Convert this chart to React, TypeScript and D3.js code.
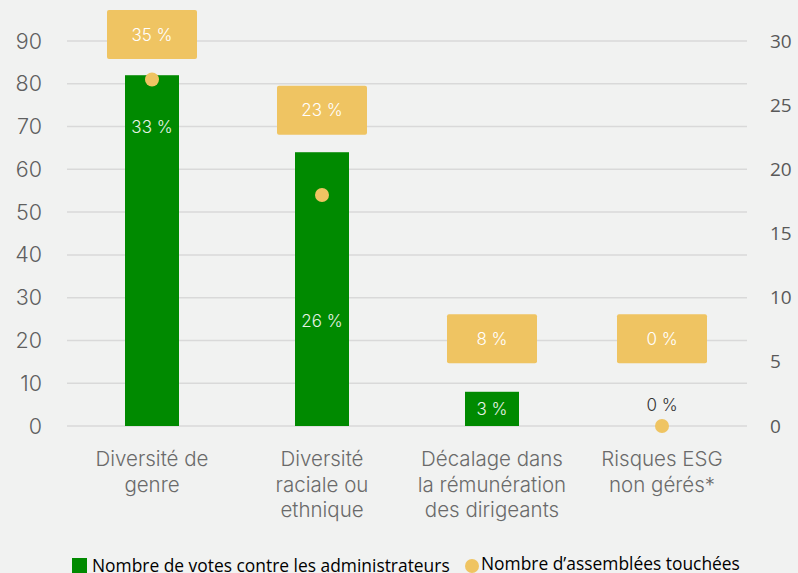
import React from "react";
import * as d3 from "d3";

const categories = [
  ["Diversité de", "genre"],
  ["Diversité", "raciale ou", "ethnique"],
  ["Décalage dans", "la rémunération", "des dirigeants"],
  ["Risques ESG", "non gérés*"],
];
const votes = [82, 64, 8, 0];
const voteLabels = ["33 %", "26 %", "3 %", "0 %"];
const voteLabelPos = [70, 24.5, 4, 5];
const meetings = [27, 18, 7, 0];
const meetingLabels = ["35 %", "23 %", "8 %", "0 %"];
const meetingLabelPos = [30.5, 24.6, 6.8, 6.8];
const leftTicks = [0, 10, 20, 30, 40, 50, 60, 70, 80, 90];
const rightTicks = [0, 5, 10, 15, 20, 25, 30];

const W = 798, H = 573;
const GREEN = "#008A00";
const YELLOW = "#EFC462";
const thin = "Inter, Lato, sans-serif";
const calibri = "'Open Sans', 'Noto Sans', sans-serif";

export default function App() {
  const x = d3.scaleBand<number>().domain(d3.range(categories.length)).range([67, 747]).paddingInner(0).paddingOuter(0);
  const yL = d3.scaleLinear().domain([0, 90]).range([426, 41]);
  const yR = d3.scaleLinear().domain([0, 30]).range([426, 41]);
  const barW = 54;
  const boxW = 90, boxH = 49;
  return (
    <svg width={W} height={H} style={{ position: "absolute", left: 0, top: 0, background: "#F1F2F1" }}>
      <rect width={W} height={H} fill="#F1F2F1" />
      {leftTicks.map((t) => (
        <g key={t}>
          <line x1={67} x2={747} y1={yL(t)} y2={yL(t)} stroke="#D9D9D9" strokeWidth={1.5} />
          <text x={42} y={yL(t)} dy="0.35em" textAnchor="end" fontFamily={thin} fontWeight={300} fontSize={21.5} fill="#5f5f5f">{t}</text>
        </g>
      ))}
      {rightTicks.map((t) => (
        <text key={t} x={770} y={yR(t)} dy="0.35em" fontFamily={calibri} fontSize={19} fill="#595959">{t}</text>
      ))}
      {votes.map((v, i) => {
        const cx = x(i)! + x.bandwidth() / 2;
        return v > 0 ? (
          <rect key={i} x={cx - barW / 2} y={yL(v)} width={barW} height={yL(0) - yL(v)} fill={GREEN} />
        ) : null;
      })}
      {meetings.map((m, i) => {
        const cx = x(i)! + x.bandwidth() / 2;
        return <circle key={i} cx={cx} cy={yR(m)} r={7} fill={YELLOW} />;
      })}
      {meetingLabels.map((l, i) => {
        const cx = x(i)! + x.bandwidth() / 2;
        const cy = yR(meetingLabelPos[i]);
        return (
          <g key={i}>
            <rect x={cx - boxW / 2} y={cy - boxH / 2} width={boxW} height={boxH} rx={2} fill={YELLOW} />
            <text x={cx} y={cy} dy="0.35em" textAnchor="middle" fontFamily={thin} fontWeight={300} fontSize={17} fill="#ffffff">{l}</text>
          </g>
        );
      })}
      {voteLabels.map((l, i) => {
        const cx = x(i)! + x.bandwidth() / 2;
        const v = votes[i];
        return (
          <text key={i} x={cx} y={yL(voteLabelPos[i])} dy="0.35em" textAnchor="middle" fontFamily={thin} fontWeight={300} fontSize={17} fill={v === 0 ? "#333" : "#E6F2E6"}>{l}</text>
        );
      })}
      {categories.map((lines, i) => {
        const cx = x(i)! + x.bandwidth() / 2;
        return (
          <text key={i} textAnchor="middle" fontFamily={thin} fontWeight={300} fontSize={20.5} fill="#6a6a6a">
            {lines.map((ln, j) => (
              <tspan key={j} x={cx} y={459 + j * 25.5} dy="0.35em">{ln}</tspan>
            ))}
          </text>
        );
      })}
      <rect x={72} y={558} width={15} height={15} fill={GREEN} />
      <text x={92} y={572} fontFamily={calibri} fontSize={17.4} fill="#000">Nombre de votes contre les administrateurs</text>
      <circle cx={472} cy={566} r={7} fill={YELLOW} />
      <text x={481} y={570} fontFamily={calibri} fontSize={17.4} fill="#000">Nombre d’assemblées touchées</text>
    </svg>
  );
}
